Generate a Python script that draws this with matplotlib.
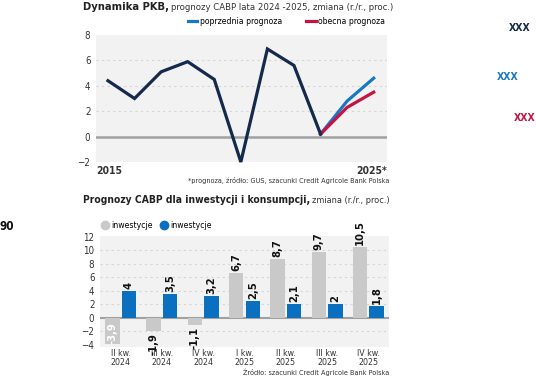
import numpy as np
import matplotlib
matplotlib.use("Agg")
import matplotlib.pyplot as plt
from matplotlib.lines import Line2D

plt.rcParams['font.family'] = ['DejaVu Sans']
plt.rcParams['font.stretch'] = 'condensed'

# --- data: PKB dynamics
years = np.arange(2015, 2026)
pkb = [4.4, 3.0, 5.1, 5.9, 4.5, -2.0, 6.9, 5.6, 0.2]
prog_years = [2023, 2024, 2025]
prog_prev = [0.2, 2.8, 4.6]
prog_now = [0.2, 2.3, 3.5]

# --- data: investments / consumption
quarters = ['II kw.\n2024', 'III kw.\n2024', 'IV kw.\n2024', 'I kw.\n2025',
            'II kw.\n2025', 'III kw.\n2025', 'IV kw.\n2025']
invest = [-3.9, -1.9, -1.1, 6.7, 8.7, 9.7, 10.5]
consum = [4, 3.5, 3.2, 2.5, 2.1, 2, 1.8]

navy = '#15294d'
blue = '#1a78c2'
red = '#c41443'
barblue = '#0b6fbf'
bargrey = '#c9c9c9'
bg = '#f2f2f2'
txt = '#333333'

fig = plt.figure(figsize=(5.36, 3.77), dpi=100)
W, H = 536, 377

def fx(px):
    return px / W

def fy(py):
    return 1 - py / H

# ---------------- top chart
ax1 = fig.add_axes([fx(96), fy(162), fx(387) - fx(96), fy(35) - fy(162)])
ax1.set_facecolor(bg)
ax1.plot(years[:len(pkb)], pkb, color=navy, lw=2.3, solid_joinstyle='miter', clip_on=False, zorder=4)
ax1.plot(prog_years, prog_prev, color=blue, lw=2.3, label='poprzednia prognoza', zorder=3)
ax1.plot(prog_years, prog_now, color=red, lw=2.3, label='obecna prognoza', zorder=3)
ax1.axhline(0, color='#a0a0a0', lw=1.8, zorder=2)
ax1.set_xlim(2014.55, 2025.5)
ax1.set_ylim(-2, 8)
ax1.set_yticks([-2, 0, 2, 4, 6, 8])
ax1.set_xticks([])
for y in [2, 4, 6]:
    ax1.axhline(y, color='#d5d5d5', lw=0.8, ls=(0, (2, 3)), zorder=1)
ax1.tick_params(axis='y', length=0, labelsize=7, labelcolor=txt, pad=4)
for s in ax1.spines.values():
    s.set_visible(False)
ax1.text(0, -0.03, '2015', transform=ax1.transAxes, ha='left', va='top',
         fontsize=7.5, fontweight='bold', color=txt)
ax1.text(1, -0.03, '2025*', transform=ax1.transAxes, ha='right', va='top',
         fontsize=7.5, fontweight='bold', color=txt)
ax1.legend(loc='lower right', bbox_to_anchor=(1.0, 1.06), ncol=2, frameon=False,
           handlelength=1.1, handletextpad=0.3, columnspacing=2.8, fontsize=6.2,
           borderaxespad=0.1, borderpad=0.1)

fig.canvas.draw()
t1 = fig.text(fx(83), fy(7), 'Dynamika PKB,', fontsize=8, fontweight='bold',
              color='#222222', va='center', ha='left')
ext = t1.get_window_extent(renderer=fig.canvas.get_renderer())
fig.text(ext.x1 / W + 0.004, fy(7), 'prognozy CABP lata 2024 -2025, zmiana (r./r., proc.)',
         fontsize=6.8, color=txt, va='center', ha='left')
fig.text(fx(389), fy(181), '*prognoza, źródło: GUS, szacunki Credit Agricole Bank Polska',
         fontsize=5.2, color=txt, ha='right', va='center')

# side labels
fig.text(fx(520), fy(28), 'XXX', color=navy, fontsize=7.5, fontweight='bold', ha='center', va='center')
fig.text(fx(508), fy(77), 'XXX', color=blue, fontsize=7.5, fontweight='bold', ha='center', va='center')
fig.text(fx(525), fy(118), 'XXX', color=red, fontsize=7.5, fontweight='bold', ha='center', va='center')
fig.text(fx(0), fy(227), '90', color='#111111', fontsize=8.5, fontweight='bold', ha='left', va='center')

# ---------------- bottom chart
ax2 = fig.add_axes([fx(100), fy(347), fx(389) - fx(100), fy(236) - fy(347)])
ax2.set_facecolor(bg)
x = np.arange(len(quarters))
w = 0.35
ax2.bar(x - 0.2, invest, w, color=bargrey, label='inwestycje', zorder=3)
ax2.bar(x + 0.2, consum, w, color=barblue, label='inwestycje', zorder=3)
ax2.axhline(0, color='#a0a0a0', lw=1.5, zorder=2)
for y in [-2, 2, 4, 6, 8, 10]:
    ax2.axhline(y, color='#d5d5d5', lw=0.8, ls=(0, (2, 3)), zorder=1)
ax2.set_xlim(-0.5, 6.5)
ax2.set_ylim(-4.3, 12.1)
ax2.set_yticks(range(-4, 13, 2))
ax2.set_xticks(x)
ax2.set_xticklabels(quarters, fontsize=6.3, color=txt, linespacing=1.05)
ax2.tick_params(axis='both', length=0, labelcolor=txt)
ax2.tick_params(axis='x', pad=1.5, labelsize=6.3)
ax2.tick_params(axis='y', pad=4, labelsize=7)
for s in ax2.spines.values():
    s.set_visible(False)

def lab(v):
    return ('%g' % v).replace('.', ',')

for xi, v in zip(x - 0.2, invest):
    if v >= 0:
        ax2.text(xi, v + 0.3, lab(v), rotation=90, ha='center', va='bottom',
                 fontsize=8, fontweight='bold', color='#111111', zorder=5)
    elif v < -3:
        ax2.text(xi, v + 0.1, lab(v), rotation=90, ha='center', va='bottom',
                 fontsize=8, fontweight='bold', color='white', zorder=5)
    else:
        ax2.text(xi, v - 0.3, lab(v), rotation=90, ha='center', va='top',
                 fontsize=8, fontweight='bold', color='#111111', zorder=5)
for xi, v in zip(x + 0.2, consum):
    ax2.text(xi, v + 0.3, lab(v), rotation=90, ha='center', va='bottom',
             fontsize=8, fontweight='bold', color='#111111', zorder=5)

handles = [Line2D([], [], marker='o', ls='', color=bargrey, markersize=6),
           Line2D([], [], marker='o', ls='', color=barblue, markersize=6)]
fig.legend(handles, ['inwestycje', 'inwestycje'], loc='center left',
           bbox_to_anchor=(fx(96), fy(226)), ncol=2, frameon=False, fontsize=6.2,
           handletextpad=0.1, columnspacing=0.7, borderpad=0, handlelength=1.2)

t2 = fig.text(fx(83), fy(200), 'Prognozy CABP dla inwestycji i konsumpcji,', fontsize=7.4,
              fontweight='bold', color='#222222', va='center', ha='left')
ext2 = t2.get_window_extent(renderer=fig.canvas.get_renderer())
fig.text(ext2.x1 / W + 0.004, fy(200), 'zmiana (r./r., proc.)', fontsize=6.6,
         color=txt, va='center', ha='left')
fig.text(fx(389), fy(372), 'Źródło: szacunki Credit Agricole Bank Polska',
         fontsize=5.2, color=txt, ha='right', va='center')

fig.savefig('out.png', dpi=100)
